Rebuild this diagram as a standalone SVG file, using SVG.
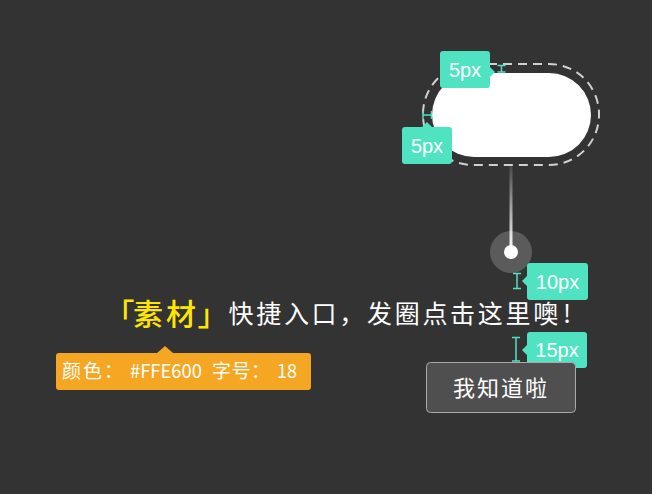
<svg xmlns="http://www.w3.org/2000/svg" width="652" height="494" viewBox="0 0 652 494">
<defs>
<style>
.cjk{font-family:"Noto Sans CJK SC","Noto Sans",sans-serif}
.lbl{font-family:"Liberation Sans",Arial,sans-serif;font-size:20px;fill:#fff}
.tag{fill:#50E3C2}
.meas{stroke:#50E3C2;stroke-width:1.5;fill:none}
</style>
<linearGradient id="stem" x1="0" y1="0" x2="0" y2="1">
<stop offset="0" stop-color="#ffffff" stop-opacity="0.1"/>
<stop offset="1" stop-color="#ffffff" stop-opacity="1"/>
</linearGradient>
</defs>
<rect width="652" height="494" fill="#333333"/>

<g id="bubble">
<rect x="423" y="64" width="176" height="101" rx="50" fill="none" stroke="#d0d0d0" stroke-width="2" stroke-dasharray="9 6"/>
<rect x="432" y="73" width="159" height="84" rx="42" fill="#ffffff"/>
</g>

<g id="connectors">
<rect x="509.5" y="165" width="3" height="87" fill="url(#stem)"/>
</g>

<g id="anchor">
<circle cx="511" cy="252" r="21" fill="#ffffff" fill-opacity="0.2"/>
<circle cx="511" cy="252" r="7" fill="#ffffff"/>
</g>

<g id="measure-top">
<path class="meas" d="M497.5 65.5H505.5M501.5 65.5V72M497.5 72H505.5"/>
<path class="tag" d="M443 51H487a3 3 0 0 1 3 3V67L495 72L490 77V85a3 3 0 0 1-3 3H443a3 3 0 0 1-3-3V54a3 3 0 0 1 3-3Z"/>
<text class="lbl" x="465" y="77" text-anchor="middle">5px</text>
</g>

<g id="measure-left">
<path class="meas" d="M423 111V119M423 115H431.5M431.5 111V119"/>
<path class="tag" d="M405 127H422L427 122L432 127H449a3 3 0 0 1 3 3V161a3 3 0 0 1-3 3H405a3 3 0 0 1-3-3V130a3 3 0 0 1 3-3Z"/>
<text class="lbl" x="427" y="153" text-anchor="middle">5px</text>
</g>

<g id="measure-10">
<path class="meas" d="M513 273.5H521M517 273.5V288.5M513 288.5H521"/>
<path class="tag" d="M530 263H585a3 3 0 0 1 3 3V297a3 3 0 0 1-3 3H530a3 3 0 0 1-3-3V286L522 281L527 276V266a3 3 0 0 1 3-3Z"/>
<text class="lbl" x="557.5" y="289" text-anchor="middle">10px</text>
</g>

<g id="headline">
<text class="cjk" x="119.5 148 181 212.5" y="325" font-size="30" font-weight="500" text-anchor="middle" fill="#FFE600">「素材」</text>
<text class="cjk" x="228.5" y="323" font-size="25" letter-spacing="2.7" fill="#ffffff">快捷入口，发圈点击这里噢<tspan dx="2">!</tspan></text>
</g>

<g id="tooltip">
<path d="M59 353H157L165 346L173 353H308a3 3 0 0 1 3 3V387a3 3 0 0 1-3 3H59a3 3 0 0 1-3-3V356a3 3 0 0 1 3-3Z" fill="#F5A623"/>
<text class="cjk" y="378" font-size="19" fill="#ffffff"><tspan x="62" letter-spacing="2">颜色：</tspan><tspan x="130" textLength="72" lengthAdjust="spacingAndGlyphs">#FFE600</tspan><tspan x="212" letter-spacing="0.5">字号：</tspan><tspan x="277" textLength="20" lengthAdjust="spacingAndGlyphs">18</tspan></text>
</g>

<g id="measure-15">
<path class="meas" d="M512 337.5H520M516 337.5V361M512 361H520"/>
<path class="tag" d="M530 332H584a3 3 0 0 1 3 3V365a3 3 0 0 1-3 3H530a3 3 0 0 1-3-3V355L522 350L527 345V335a3 3 0 0 1 3-3Z"/>
<text class="lbl" x="557" y="357" text-anchor="middle">15px</text>
</g>

<g id="button">
<rect x="426.5" y="362.5" width="149" height="50" rx="4" fill="#4f4f4f" stroke="#aaaaaa" stroke-width="1"/>
<text class="cjk" x="501" y="396" font-size="22" letter-spacing="2" text-anchor="middle" fill="#ffffff">我知道啦</text>
</g>
</svg>
